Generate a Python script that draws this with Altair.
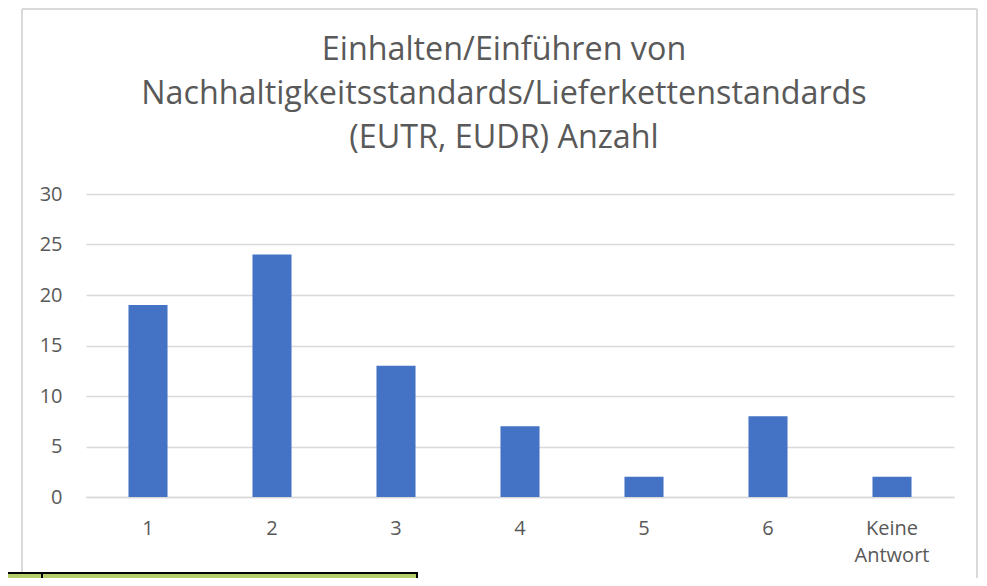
import altair as alt
import pandas as pd

categories = ["1", "2", "3", "4", "5", "6", "Keine Antwort"]
counts = [19, 24, 13, 7, 2, 8, 2]

df = pd.DataFrame({"cat": categories, "n": counts})

FONT = "Open Sans"
GREY = "#595959"

base = alt.Chart(df)

bars = base.mark_bar(color="#4472C4").encode(
    x=alt.X(
        "cat:N",
        sort=categories,
        title=None,
        scale=alt.Scale(paddingInner=0.685, paddingOuter=0.3425),
        axis=alt.Axis(
            labelAngle=0,
            labelExpr="datum.value == 'Keine Antwort' ? ['Keine', 'Antwort'] : datum.value",
            labelFontSize=20,
            labelColor=GREY,
            labelFont=FONT,
            labelPadding=21,
            labelLineHeight=27,
            ticks=False,
            domain=True,
            domainColor="#d9d9d9",
            domainWidth=1.5,
            grid=False,
        ),
    ),
    y=alt.Y(
        "n:Q",
        title=None,
        scale=alt.Scale(domain=[0, 30], nice=False),
        axis=alt.Axis(
            values=[0, 5, 10, 15, 20, 25, 30],
            labelFontSize=20,
            labelColor=GREY,
            labelFont=FONT,
            labelPadding=24,
            ticks=False,
            domain=False,
            grid=True,
            gridColor="#d9d9d9",
            gridWidth=1.3,
        ),
    ),
)

# chart-area border (decoration, in pixels relative to the plot area)
frame_left = base.mark_rule(color="#d9d9d9", strokeWidth=1.5, clip=False).encode(
    x=alt.value(-64), y=alt.value(-185), y2=alt.value(420)
)
frame_right = base.mark_rule(color="#d9d9d9", strokeWidth=1.5, clip=False).encode(
    x=alt.value(891), y=alt.value(-185), y2=alt.value(420)
)
frame_top = base.mark_rule(color="#d9d9d9", strokeWidth=1.5, clip=False).encode(
    x=alt.value(-64), x2=alt.value(891), y=alt.value(-185)
)
cell = base.mark_rect(fill="#b5cc6a", stroke="#000000", strokeWidth=2, clip=False).encode(
    x=alt.value(-80), x2=alt.value(331), y=alt.value(379), y2=alt.value(420)
)
cell_div = base.mark_rule(color="#000000", strokeWidth=2, clip=False).encode(
    x=alt.value(-44), y=alt.value(379), y2=alt.value(420)
)

chart = alt.layer(frame_left, frame_right, frame_top, bars, cell, cell_div).properties(
    width=868,
    height=303,
    background="white",
    autosize=alt.AutoSizeParams(type="none"),
    padding={"left": 78, "top": 186, "right": 25, "bottom": 81},
    title=alt.TitleParams(
        text=["Einhalten/Einführen von", "Nachhaltigkeitsstandards/Lieferkettenstandards", "(EUTR, EUDR) Anzahl"],
        fontSize=32.3,
        font=FONT,
        fontWeight="normal",
        color=GREY,
        lineHeight=44,
        anchor="middle",
        frame="group",
        dx=-16,
        offset=-146,
    ),
).configure_view(stroke="transparent", strokeWidth=0)

chart.save("out.html", embed_options={"renderer": "svg", "actions": False})
